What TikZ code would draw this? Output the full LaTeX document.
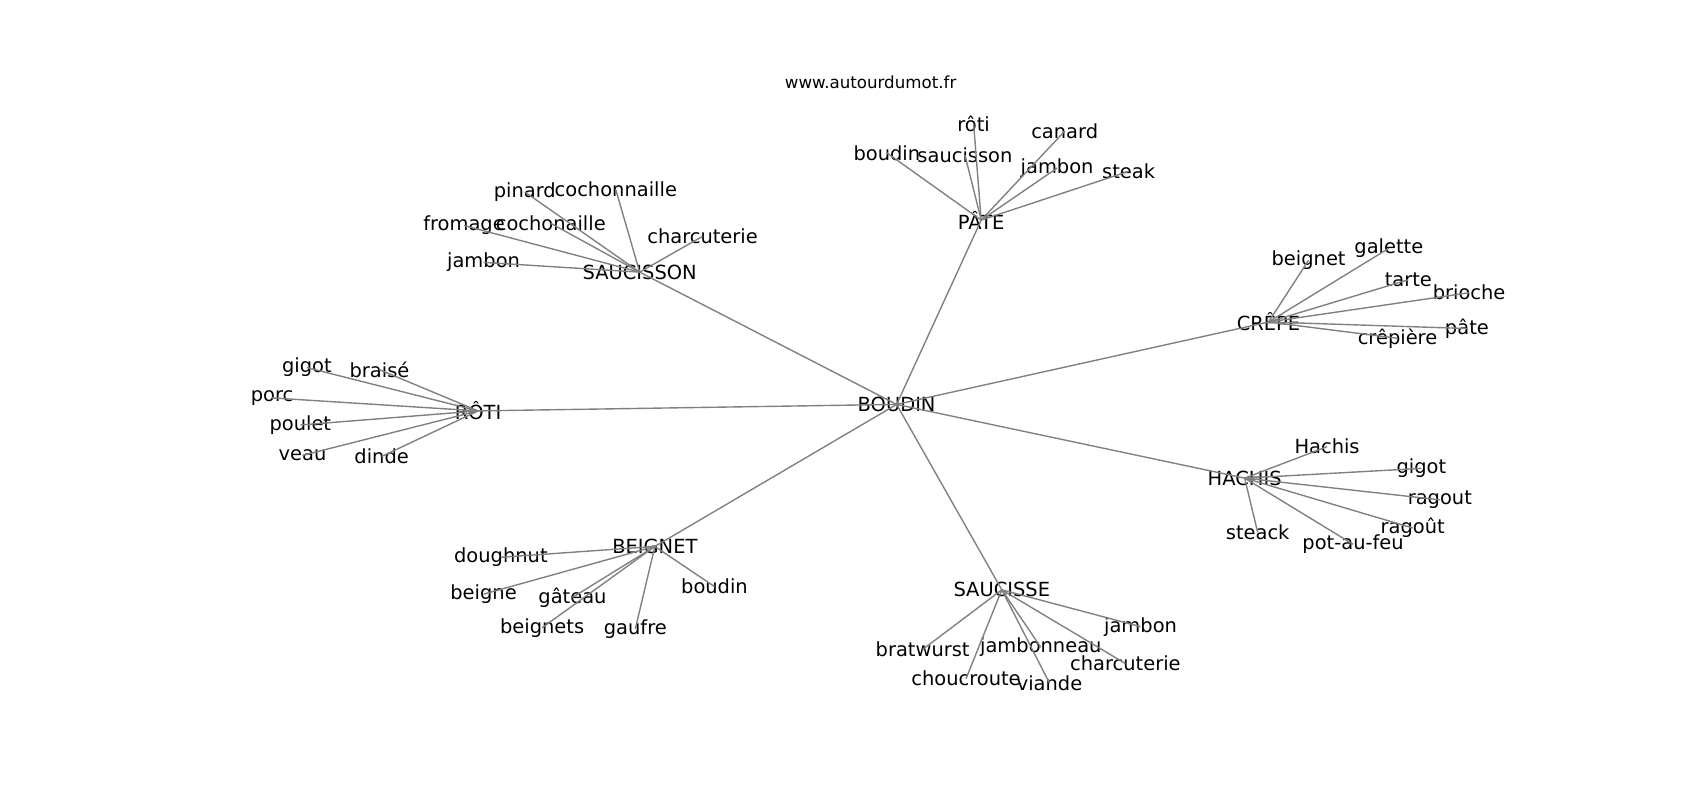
\documentclass[tikz,border=0pt]{standalone}
\usepackage{fontspec}
\setmainfont{DejaVu Sans}
\begin{document}
\begin{tikzpicture}[x=0.7806pt,y=-0.7806pt,
  lbl/.style={inner sep=0pt,font=\fontsize{14}{16}\selectfont,text=black},
  ttl/.style={inner sep=0pt,font=\fontsize{12}{14}\selectfont,text=black},
  edge/.style={draw=gray,line width=1pt}]
\useasboundingbox (0,0) rectangle (1568,738);
\node[ttl] (title) at (803,76) {www.autourdumot.fr};
% hubs
\node[lbl] (boudin) at (827,373) {BOUDIN};
\node[lbl] (pate) at (905,203) {PÂTE};
\node[lbl] (saucisson) at (590,251) {SAUCISSON};
\node[lbl] (crepe) at (1170,297) {CRÊPE};
\node[lbl] (roti) at (441,379) {RÔTI};
\node[lbl] (hachis) at (1148,441) {HACHIS};
\node[lbl] (beignet) at (604,504) {BEIGNET};
\node[lbl] (saucisse) at (924,544) {SAUCISSE};
% PATE leaves
\node[lbl] (p1) at (898,114) {rôti};
\node[lbl] (p2) at (982,121) {canard};
\node[lbl] (p3) at (818,141) {boudin};
\node[lbl] (p4) at (890,143) {saucisson};
\node[lbl] (p5) at (975,155) {jambon};
\node[lbl] (p6) at (1041,158) {steak};
% SAUCISSON leaves
\node[lbl] (s1) at (484,177) {pinard};
\node[lbl] (s2) at (568,175) {cochonnaille};
\node[lbl] (s3) at (428,208) {fromage};
\node[lbl] (s4) at (508,206) {cochonaille};
\node[lbl] (s5) at (648,218) {charcuterie};
\node[lbl] (s6) at (446,242) {jambon};
% CREPE leaves
\node[lbl] (c1) at (1207,240) {beignet};
\node[lbl] (c2) at (1281,229) {galette};
\node[lbl] (c3) at (1299,258) {tarte};
\node[lbl] (c4) at (1355,270) {brioche};
\node[lbl] (c5) at (1353,303) {pâte};
\node[lbl] (c6) at (1289,312) {crêpière};
% ROTI leaves
\node[lbl] (r1) at (283,339) {gigot};
\node[lbl] (r2) at (350,341) {braisé};
\node[lbl] (r3) at (251,367) {porc};
\node[lbl] (r4) at (277,392) {poulet};
\node[lbl] (r5) at (279,420) {veau};
\node[lbl] (r6) at (352,421) {dinde};
% HACHIS leaves
\node[lbl] (h1) at (1224,412) {Hachis};
\node[lbl] (h2) at (1311,432) {gigot};
\node[lbl] (h3) at (1328,461) {ragout};
\node[lbl] (h4) at (1303,487) {ragoût};
\node[lbl] (h5) at (1160,491) {steack};
\node[lbl] (h6) at (1248,502) {pot-au-feu};
% BEIGNET leaves
\node[lbl] (b1) at (462,514) {doughnut};
\node[lbl] (b2) at (446,548) {beigne};
\node[lbl] (b3) at (528,551) {gâteau};
\node[lbl] (b4) at (500,579) {beignets};
\node[lbl] (b5) at (586,580) {gaufre};
\node[lbl] (b6) at (659,541) {boudin};
% SAUCISSE leaves
\node[lbl] (a1) at (1052,578) {jambon};
\node[lbl] (a2) at (851,599) {bratwurst};
\node[lbl] (a3) at (960,597) {jambonneau};
\node[lbl] (a4) at (1038,612) {charcuterie};
\node[lbl] (a5) at (891,626) {choucroute};
\node[lbl] (a6) at (968,630) {viande};
% edges
\foreach \h in {pate,saucisson,crepe,roti,hachis,beignet,saucisse}
  \draw[edge] (boudin.center) -- (\h.center);
\foreach \l in {p1,p2,p3,p4,p5,p6} \draw[edge] (pate.center) -- (\l.center);
\foreach \l in {s1,s2,s3,s4,s5,s6} \draw[edge] (saucisson.center) -- (\l.center);
\foreach \l in {c1,c2,c3,c4,c5,c6} \draw[edge] (crepe.center) -- (\l.center);
\foreach \l in {r1,r2,r3,r4,r5,r6} \draw[edge] (roti.center) -- (\l.center);
\foreach \l in {h1,h2,h3,h4,h5,h6} \draw[edge] (hachis.center) -- (\l.center);
\foreach \l in {b1,b2,b3,b4,b5,b6} \draw[edge] (beignet.center) -- (\l.center);
\foreach \l in {a1,a2,a3,a4,a5,a6} \draw[edge] (saucisse.center) -- (\l.center);
\end{tikzpicture}
\end{document}
